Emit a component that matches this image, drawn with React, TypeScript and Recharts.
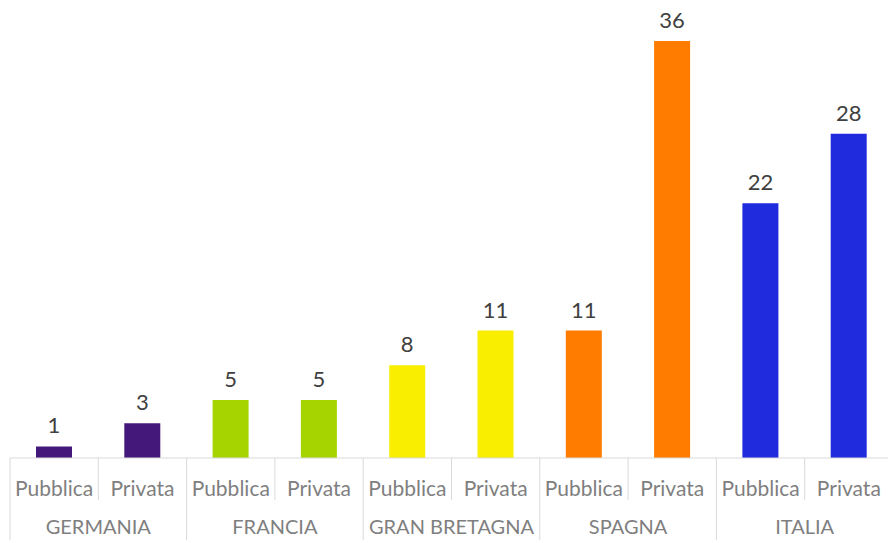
import { BarChart, Bar, XAxis, YAxis, Cell, LabelList } from 'recharts'

const countries = ['GERMANIA', 'FRANCIA', 'GRAN BRETAGNA', 'SPAGNA', 'ITALIA']
const sectors = ['Pubblica', 'Privata']
const values = [1, 3, 5, 5, 8, 11, 11, 36, 22, 28]
const countryColors = ['#44177a', '#a5d400', '#f9ee00', '#ff7c00', '#1f2bdd']

const data = values.map((v, i) => ({
  key: `${countries[Math.floor(i / 2)]}-${sectors[i % 2]}`,
  sector: sectors[i % 2],
  country: countries[Math.floor(i / 2)],
  value: v,
  color: countryColors[Math.floor(i / 2)],
}))

const W = 888
const H = 543
// plot runs a little past the right edge, like the original
const margin = { top: 41, right: -5, bottom: 0, left: 10 }
const band = (W - margin.left - margin.right) / data.length
const font = 'Lato, "DejaVu Sans", sans-serif'
const lineColor = '#d9d9d9'

function TwoLevelTick(props: any) {
  const { x, y, index } = props
  const row = data[index]
  const left = x - band / 2
  const isFirst = index % 2 === 0
  return (
    <g>
      {/* divider left of each bar: long at group edges, short inside */}
      <line x1={left} x2={left} y1={y} y2={isFirst ? y + 82 : y + 42} stroke={lineColor} />
      <text x={x} y={y + 38} textAnchor="middle" fill="#7f7f7f" fontSize={21} fontFamily={font}>
        {row.sector}
      </text>
      {!isFirst && (
        <text x={left} y={y + 76} textAnchor="middle" fill="#7f7f7f" fontSize={20} fontFamily={font}>
          {row.country}
        </text>
      )}
    </g>
  )
}

export default function App() {
  return (
    <div style={{ position: 'absolute', left: 0, top: 0, background: '#fff', overflow: 'hidden', width: W, height: H }}>
      <BarChart width={W} height={H} data={data} margin={margin} style={{ overflow: 'hidden' }}>
        <XAxis
          dataKey="key"
          tick={(p: any) => <TwoLevelTick {...p} />}
          tickLine={false}
          axisLine={{ stroke: lineColor }}
          interval={0}
          height={85}
          tickSize={0}
          tickMargin={0}
        />
        <YAxis hide domain={[0, 36]} />
        <Bar dataKey="value" barSize={36} isAnimationActive={false}>
          {data.map((d) => (
            <Cell key={d.key} fill={d.color} />
          ))}
          <LabelList
            dataKey="value"
            position="top"
            offset={13}
            fill="#404040"
            fontSize={22}
            fontFamily={font}
          />
        </Bar>
      </BarChart>
    </div>
  )
}
